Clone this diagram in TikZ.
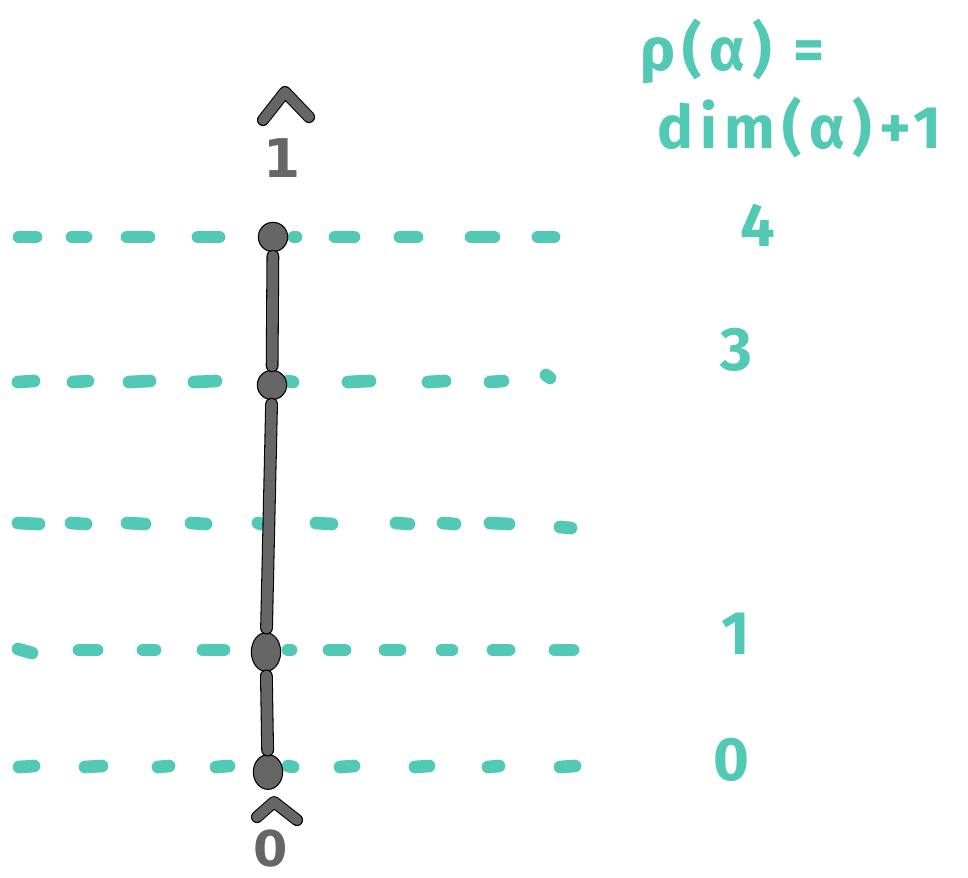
\documentclass[tikz,border=0pt]{standalone}
\usepackage{fontspec}
\usetikzlibrary{shapes.geometric}
\setmainfont{Fira Sans}
\newfontfamily\labelfont{DejaVu Sans}
\definecolor{tealc}{HTML}{52C9B5}
\definecolor{greyc}{HTML}{666666}
\tikzset{
  guide/.style={draw=tealc, line width=9.5pt, line cap=round},
  dot/.style={circle, draw=black, line width=0.8pt, fill=greyc, minimum size=22pt, inner sep=0pt},
  chainedge/.style={draw=black, double=greyc, double distance=8pt, line width=0.8pt, line cap=round, shorten <=3pt, shorten >=3pt},
  hat/.style={draw=black, double=greyc, double distance=7.5pt, line width=0.8pt, line cap=round, line join=round},
  rank/.style={text=tealc, font=\fontsize{46}{48}\selectfont\bfseries, inner sep=0pt},
  formula/.style={text=tealc, font=\fontsize{45}{48}\selectfont\bfseries\addfontfeature{LetterSpace=12}, inner sep=0pt},
  toplabel/.style={text=greyc, font=\labelfont\fontsize{40}{44}\selectfont\bfseries, inner sep=0pt}
}
\begin{document}
\begin{tikzpicture}[x=0.75pt,y=-0.75pt]
\path[use as bounding box, fill=white] (0,0) rectangle (968,878);
% dashed level lines (hand-placed dashes)
\foreach \a/\b in {13/42,66/92,121/155,192/225,290/300,329/360,394/423,465/500,532/560}
  \draw[guide] ({\a+6},237) -- ({\b-6},237);
\foreach \a/\b in {12/40,67/94,123/156,188/222,287/294,342/376,422/451,484/509}
  \draw[guide] ({\a+6},382) -- ({\b-6},381);
\draw[guide] (546,375) -- (550,378);
\foreach \a/\b in {12/45,65/92,121/151,185/212,252/267,310/338,390/415,437/461,484/515}
  \draw[guide] ({\a+6},523) -- ({\b-6},524);
\draw[guide] (560,527) -- (571,528);
\draw[guide] (18,649) -- (32,653);
\foreach \a/\b in {73/103,137/161,197/230,285/294,323/351,379/406,436/458,487/515,549/579}
  \draw[guide] ({\a+6},650) -- ({\b-6},650);
\foreach \a/\b in {13/40,79/108,152/175,210/235,287/294,334/360,409/435,482/505,554/581}
  \draw[guide] ({\a+6},767) -- ({\b-6},766);
% vertices
\node[dot] (v4) at (273,237) {};
\node[dot] (v3) at (272,385) {};
\node[dot, ellipse, minimum width=22pt, minimum height=29pt] (v1) at (266,652) {};
\node[dot, ellipse, minimum width=22pt, minimum height=26pt] (v0) at (268,772) {};
% chain
\draw[chainedge] (v4) -- (v3);
\draw[chainedge] (v3) -- (v1);
\draw[chainedge] (v1) -- (v0);
% top and bottom labels
\node[toplabel] (one) at (282,158) {1};
\draw[hat] (263,120) -- (285,92) -- (309,117);
\node[toplabel, font=\labelfont\fontsize{37}{40}\selectfont\bfseries] (zero) at (271,849) {0};
\draw[hat] (257,817) -- (274,802) -- (297,820);
% ranks
\node[rank] (r4) at (758,225) {4};
\node[rank] (r3) at (736,350) {3};
\node[rank] (r1) at (736,634) {1};
\node[rank] (r0) at (731,760) {0};
% formula
\node[formula, anchor=base west] (f1) at (640,70) {ρ(α) =};
\node[formula, anchor=base west] (f2) at (657,148) {dim(α)+1};
\end{tikzpicture}
\end{document}
